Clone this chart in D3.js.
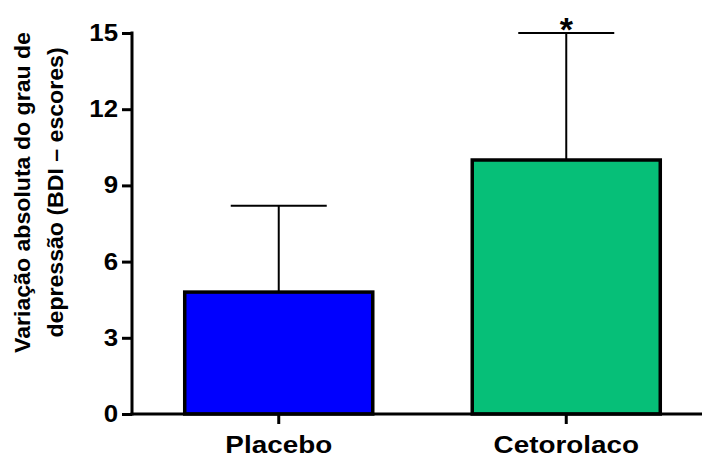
<!DOCTYPE html>
<html>
<head>
<meta charset="utf-8">
<script src="https://cdn.jsdelivr.net/npm/d3@7"></script>
<style>
  html, body { margin: 0; padding: 0; background: #fff; }
  svg { display: block; font-family: "Liberation Sans", Arial, sans-serif; }
</style>
</head>
<body>
<svg id="chart" width="702" height="457"></svg>
<script>
// Groups, means and upper SD whiskers
const categories = ["Placebo", "Cetorolaco"];
const means = [4.8, 10.0];
const upperErrors = [8.2, 15.0];
const barColors = ["#0000ff", "#06bf78"];
const significance = ["", "*"];
const yTicks = [0, 3, 6, 9, 12, 15];
const yLabelLines = ["Variação absoluta do grau de", "depressão (BDI – escores)"];

const FONT = "Liberation Sans, Arial, sans-serif";
const svg = d3.select("#chart");

// Widen bold labels slightly along their reading direction
function widen(sel, factor) {
  sel.each(function () {
    const w = this.getComputedTextLength();
    d3.select(this)
      .attr("textLength", w * factor)
      .attr("lengthAdjust", "spacingAndGlyphs");
  });
}

const x = d3.scaleBand()
  .domain(categories)
  .range([132, 713])
  .paddingInner(0.346)
  .paddingOuter(0.1834);

const y = d3.scaleLinear()
  .domain([0, 15])
  .range([414, 33]);

// Bars
svg.append("g").selectAll("rect")
  .data(categories)
  .join("rect")
  .attr("x", d => x(d))
  .attr("y", (d, i) => y(means[i]))
  .attr("width", x.bandwidth())
  .attr("height", (d, i) => y(0) - y(means[i]))
  .attr("fill", (d, i) => barColors[i])
  .attr("stroke", "#000")
  .attr("stroke-width", 3.5);

// Error bars (upper only)
const eb = svg.append("g").attr("stroke", "#000").attr("stroke-width", 2);
categories.forEach((c, i) => {
  const cx = x(c) + x.bandwidth() / 2;
  eb.append("line")
    .attr("x1", cx).attr("x2", cx)
    .attr("y1", y(means[i])).attr("y2", y(upperErrors[i]));
  eb.append("line")
    .attr("x1", cx - 48).attr("x2", cx + 48)
    .attr("y1", y(upperErrors[i])).attr("y2", y(upperErrors[i]));
  if (significance[i]) {
    svg.append("text")
      .attr("x", cx)
      .attr("y", y(upperErrors[i]) + 8)
      .attr("text-anchor", "middle")
      .attr("font-family", FONT)
      .attr("font-size", 34)
      .attr("font-weight", "bold")
      .text(significance[i]);
  }
});

// Y axis
const yAxis = svg.append("g")
  .attr("transform", "translate(132,0)")
  .call(d3.axisLeft(y).tickValues(yTicks).tickSize(10).tickPadding(4));
yAxis.select(".domain").attr("stroke-width", 3).attr("d", `M0,${y(15) - 1.5}V${y(0) + 1.5}`);
yAxis.selectAll(".tick line").attr("stroke-width", 3);
yAxis.selectAll(".tick text")
  .attr("font-size", 23.5).attr("font-weight", "bold").attr("fill", "#000")
  .attr("font-family", FONT)
  .call(widen, 1.1);

// X axis
const xAxis = svg.append("g")
  .attr("transform", `translate(0,${y(0)})`)
  .call(d3.axisBottom(x).tickSize(10).tickPadding(12));
xAxis.select(".domain").attr("stroke-width", 3).attr("d", "M130.5,0H713");
xAxis.selectAll(".tick line").attr("stroke-width", 3);
xAxis.selectAll(".tick text")
  .attr("font-size", 24).attr("font-weight", "bold").attr("fill", "#000")
  .attr("font-family", FONT)
  .call(widen, 1.16);

// Y axis title, two lines
const title = svg.append("text")
  .attr("transform", "translate(30,192.5) rotate(-90)")
  .attr("text-anchor", "middle")
  .attr("font-family", FONT)
  .attr("font-size", 22)
  .attr("font-weight", "bold");
yLabelLines.forEach((t, i) => {
  title.append("tspan").attr("x", 0).attr("dy", i === 0 ? 0 : 33).text(t);
});
title.selectAll("tspan").call(widen, 1.05);
</script>
</body>
</html>
